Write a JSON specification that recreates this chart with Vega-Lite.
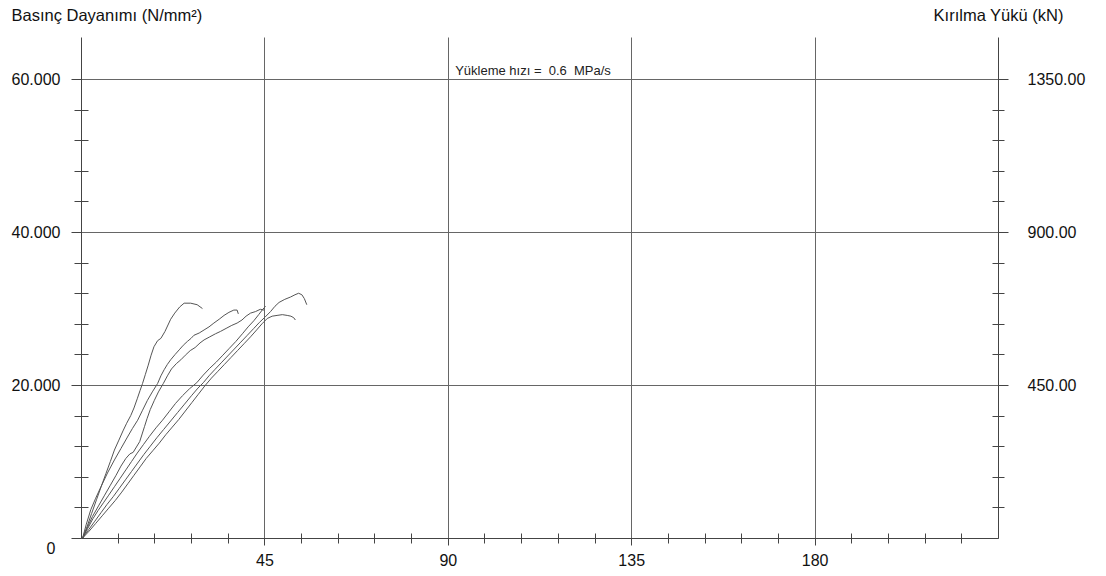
{
  "$schema": "https://vega.github.io/schema/vega-lite/v6.json",
  "autosize": {"type": "none"},
  "width": 917,
  "height": 501,
  "padding": {"left": 81, "top": 37, "right": 108, "bottom": 38},
  "background": "white",
  "config": {
    "view": {"stroke": null},
    "font": "Liberation Sans",
    "axis": {"labelFont": "Liberation Sans", "titleFont": "Liberation Sans", "labelColor": "#111", "titleColor": "#111", "domainColor": "#444", "tickColor": "#444", "gridColor": "#666", "gridWidth": 1, "labelFontSize": 16, "titleFontWeight": "normal", "titleFontSize": 16.5}
  },
  "datasets": {
    "curves": [
      {"c":"A","x":0.4,"y":0},{"c":"A","x":1.5,"y":1.5},{"c":"A","x":2.6,"y":3.2},{"c":"A","x":3.8,"y":5.0},{"c":"A","x":5.0,"y":6.8},{"c":"A","x":6.1,"y":8.4},{"c":"A","x":7.2,"y":10.0},{"c":"A","x":8.2,"y":11.5},{"c":"A","x":9.3,"y":12.8},{"c":"A","x":10.3,"y":14.0},{"c":"A","x":11.2,"y":15.0},{"c":"A","x":12.2,"y":16.0},{"c":"A","x":13.0,"y":17.0},{"c":"A","x":13.8,"y":18.2},{"c":"A","x":14.5,"y":19.3},{"c":"A","x":15.1,"y":20.2},{"c":"A","x":15.8,"y":21.4},{"c":"A","x":16.5,"y":22.6},{"c":"A","x":17.2,"y":23.9},{"c":"A","x":17.9,"y":25.0},{"c":"A","x":18.8,"y":25.8},{"c":"A","x":19.6,"y":26.1},{"c":"A","x":20.6,"y":27.0},{"c":"A","x":22.0,"y":28.6},{"c":"A","x":23.0,"y":29.4},{"c":"A","x":24.2,"y":30.2},{"c":"A","x":25.3,"y":30.7},{"c":"A","x":26.9,"y":30.7},{"c":"A","x":28.5,"y":30.5},{"c":"A","x":29.8,"y":30.0},
      {"c":"B","x":0.4,"y":0},{"c":"B","x":1.3,"y":1.8},{"c":"B","x":2.4,"y":3.7},{"c":"B","x":3.6,"y":5.2},{"c":"B","x":4.9,"y":6.7},{"c":"B","x":6.5,"y":8.5},{"c":"B","x":8.2,"y":10.2},{"c":"B","x":9.8,"y":11.7},{"c":"B","x":11.4,"y":13.2},{"c":"B","x":12.6,"y":14.3},{"c":"B","x":13.9,"y":15.4},{"c":"B","x":15.1,"y":16.7},{"c":"B","x":16.3,"y":18.0},{"c":"B","x":17.5,"y":19.1},{"c":"B","x":18.8,"y":20.2},{"c":"B","x":19.6,"y":21.2},{"c":"B","x":20.4,"y":22.0},{"c":"B","x":21.2,"y":22.7},{"c":"B","x":22.0,"y":23.3},{"c":"B","x":23.1,"y":24.0},{"c":"B","x":24.1,"y":24.6},{"c":"B","x":25.1,"y":25.2},{"c":"B","x":26.1,"y":25.7},{"c":"B","x":27.0,"y":26.1},{"c":"B","x":27.7,"y":26.5},{"c":"B","x":29.0,"y":26.8},{"c":"B","x":30.2,"y":27.2},{"c":"B","x":31.4,"y":27.6},{"c":"B","x":32.6,"y":28.1},{"c":"B","x":33.9,"y":28.6},{"c":"B","x":35.1,"y":29.1},{"c":"B","x":36.3,"y":29.5},{"c":"B","x":37.5,"y":29.8},{"c":"B","x":38.3,"y":29.8},{"c":"B","x":38.6,"y":29.3},
      {"c":"C","x":0.4,"y":0},{"c":"C","x":1.5,"y":1.3},{"c":"C","x":2.8,"y":2.8},{"c":"C","x":4.3,"y":4.2},{"c":"C","x":5.8,"y":5.6},{"c":"C","x":7.2,"y":6.9},{"c":"C","x":8.6,"y":8.2},{"c":"C","x":9.8,"y":9.4},{"c":"C","x":11.0,"y":10.4},{"c":"C","x":12.0,"y":11.0},{"c":"C","x":12.8,"y":11.2},{"c":"C","x":13.6,"y":11.9},{"c":"C","x":14.4,"y":12.6},{"c":"C","x":15.0,"y":13.6},{"c":"C","x":15.6,"y":14.6},{"c":"C","x":16.2,"y":15.6},{"c":"C","x":17.0,"y":16.8},{"c":"C","x":18.0,"y":18.0},{"c":"C","x":19.0,"y":19.1},{"c":"C","x":20.2,"y":20.2},{"c":"C","x":21.2,"y":21.2},{"c":"C","x":22.2,"y":22.1},{"c":"C","x":23.4,"y":22.8},{"c":"C","x":24.5,"y":23.3},{"c":"C","x":25.6,"y":23.9},{"c":"C","x":26.8,"y":24.5},{"c":"C","x":28.0,"y":24.9},{"c":"C","x":29.2,"y":25.5},{"c":"C","x":30.2,"y":25.9},{"c":"C","x":31.6,"y":26.3},{"c":"C","x":33.0,"y":26.7},{"c":"C","x":34.2,"y":27.0},{"c":"C","x":35.6,"y":27.4},{"c":"C","x":37.0,"y":27.8},{"c":"C","x":38.3,"y":28.1},{"c":"C","x":39.5,"y":28.5},{"c":"C","x":40.5,"y":29.0},{"c":"C","x":41.6,"y":29.4},{"c":"C","x":42.8,"y":29.6},{"c":"C","x":44.0,"y":29.9},{"c":"C","x":44.9,"y":29.8},
      {"c":"D","x":0.4,"y":0},{"c":"D","x":1.9,"y":1.1},{"c":"D","x":3.4,"y":2.2},{"c":"D","x":4.9,"y":3.3},{"c":"D","x":6.4,"y":4.4},{"c":"D","x":7.9,"y":5.4},{"c":"D","x":9.4,"y":6.5},{"c":"D","x":10.9,"y":7.6},{"c":"D","x":12.4,"y":8.7},{"c":"D","x":13.9,"y":9.8},{"c":"D","x":15.4,"y":10.9},{"c":"D","x":17.0,"y":12.0},{"c":"D","x":18.6,"y":13.1},{"c":"D","x":20.3,"y":14.2},{"c":"D","x":22.0,"y":15.3},{"c":"D","x":23.7,"y":16.4},{"c":"D","x":25.4,"y":17.5},{"c":"D","x":27.1,"y":18.6},{"c":"D","x":28.7,"y":19.6},{"c":"D","x":30.0,"y":20.3},{"c":"D","x":31.4,"y":21.2},{"c":"D","x":32.8,"y":22.0},{"c":"D","x":34.4,"y":22.9},{"c":"D","x":36.0,"y":23.8},{"c":"D","x":37.6,"y":24.7},{"c":"D","x":39.2,"y":25.6},{"c":"D","x":40.8,"y":26.5},{"c":"D","x":42.4,"y":27.4},{"c":"D","x":43.8,"y":28.2},{"c":"D","x":45.2,"y":28.9},{"c":"D","x":46.5,"y":29.6},{"c":"D","x":47.6,"y":30.3},{"c":"D","x":48.6,"y":30.8},{"c":"D","x":50.0,"y":31.2},{"c":"D","x":51.4,"y":31.5},{"c":"D","x":52.5,"y":31.8},{"c":"D","x":53.4,"y":32.0},{"c":"D","x":54.2,"y":31.8},{"c":"D","x":54.8,"y":31.3},{"c":"D","x":55.4,"y":30.5},
      {"c":"E","x":0.4,"y":0},{"c":"E","x":2.0,"y":0.9},{"c":"E","x":3.6,"y":1.9},{"c":"E","x":5.2,"y":2.9},{"c":"E","x":6.8,"y":3.9},{"c":"E","x":8.4,"y":4.9},{"c":"E","x":10.0,"y":6.0},{"c":"E","x":11.5,"y":7.1},{"c":"E","x":13.0,"y":8.2},{"c":"E","x":14.5,"y":9.3},{"c":"E","x":16.0,"y":10.4},{"c":"E","x":17.6,"y":11.4},{"c":"E","x":19.2,"y":12.4},{"c":"E","x":20.8,"y":13.5},{"c":"E","x":22.4,"y":14.5},{"c":"E","x":24.0,"y":15.5},{"c":"E","x":25.6,"y":16.6},{"c":"E","x":27.2,"y":17.7},{"c":"E","x":28.8,"y":18.8},{"c":"E","x":30.4,"y":19.9},{"c":"E","x":32.0,"y":20.9},{"c":"E","x":33.6,"y":21.8},{"c":"E","x":35.2,"y":22.7},{"c":"E","x":36.8,"y":23.6},{"c":"E","x":38.4,"y":24.5},{"c":"E","x":40.0,"y":25.4},{"c":"E","x":41.6,"y":26.3},{"c":"E","x":43.1,"y":27.2},{"c":"E","x":44.4,"y":28.0},{"c":"E","x":45.7,"y":28.7},{"c":"E","x":46.9,"y":29.0},{"c":"E","x":48.1,"y":29.1},{"c":"E","x":49.4,"y":29.2},{"c":"E","x":50.6,"y":29.1},{"c":"E","x":51.5,"y":29.0},{"c":"E","x":52.2,"y":28.8},{"c":"E","x":52.6,"y":28.5},
      {"c":"F","x":0.4,"y":0},{"c":"F","x":1.6,"y":1.2},{"c":"F","x":2.9,"y":2.5},{"c":"F","x":4.2,"y":3.6},{"c":"F","x":5.5,"y":4.6},{"c":"F","x":6.8,"y":5.6},{"c":"F","x":8.2,"y":6.7},{"c":"F","x":9.6,"y":7.8},{"c":"F","x":11.0,"y":8.9},{"c":"F","x":12.4,"y":10.0},{"c":"F","x":13.8,"y":11.1},{"c":"F","x":15.3,"y":12.2},{"c":"F","x":16.8,"y":13.3},{"c":"F","x":18.4,"y":14.4},{"c":"F","x":20.0,"y":15.4},{"c":"F","x":21.6,"y":16.5},{"c":"F","x":23.2,"y":17.6},{"c":"F","x":24.9,"y":18.6},{"c":"F","x":26.6,"y":19.5},{"c":"F","x":28.4,"y":20.3},{"c":"F","x":30.0,"y":21.3},{"c":"F","x":31.6,"y":22.2},{"c":"F","x":33.2,"y":23.0},{"c":"F","x":34.8,"y":23.9},{"c":"F","x":36.4,"y":24.8},{"c":"F","x":38.0,"y":25.7},{"c":"F","x":39.6,"y":26.7},{"c":"F","x":41.0,"y":27.6},{"c":"F","x":42.4,"y":28.4},{"c":"F","x":43.6,"y":29.2},{"c":"F","x":44.6,"y":29.9},{"c":"F","x":45.3,"y":30.3}
    ],
    "note": [
      {"label": "Yükleme hızı = \u00a00.6 \u00a0MPa/s", "x": 91.8, "y": 60}
    ]
  },
  "resolve": {"axis": {"x": "independent", "y": "independent"}},
  "layer": [
    {
      "data": {"name": "curves"},
      "mark": {"type": "line", "color": "#555", "strokeWidth": 1},
      "encoding": {
        "x": {"field": "x", "type": "quantitative", "scale": {"domain": [0, 225], "nice": false, "zero": false},
          "axis": {"orient": "bottom", "values": [45, 90, 135, 180], "grid": true, "tickSize": 7, "labelPadding": 7, "title": null, "labelFlush": false}},
        "y": {"field": "y", "type": "quantitative", "scale": {"domain": [0, 65.5], "nice": false, "zero": false},
          "axis": {"orient": "left", "values": [0, 20, 40, 60], "grid": true, "tickSize": 10,
            "labelPadding": {"condition": {"test": "datum.value == 0", "value": 16}, "value": 11},
            "labelOffset": {"condition": {"test": "datum.value == 0", "value": 10}, "value": 0},
            "labelExpr": "datum.value == 0 ? '0' : format(datum.value, '.3f')",
            "title": "Basınç Dayanımı (N/mm²)", "titleAngle": 0, "titleAlign": "left", "titleBaseline": "middle", "titleX": -70, "titleY": -22}},
        "detail": {"field": "c", "type": "nominal"}
      }
    },
    {
      "data": {"name": "note"},
      "mark": {"type": "text", "align": "left", "baseline": "bottom", "dy": -1, "fontSize": 13, "font": "Liberation Sans", "color": "#222"},
      "encoding": {
        "x": {"field": "x", "type": "quantitative",
          "axis": {"orient": "bottom", "values": [9, 18, 27, 36, 54, 63, 72, 81, 99, 108, 117, 126, 144, 153, 162, 171, 189, 198, 207, 216], "grid": false, "domain": false, "labels": false, "tickSize": 10, "offset": -5, "title": null}},
        "y": {"field": "y", "type": "quantitative",
          "axis": {"orient": "left", "values": [4, 8, 12, 16, 24, 28, 32, 36, 44, 48, 52, 56], "grid": false, "domain": false, "labels": false, "tickSize": 14, "offset": -7, "title": null}},
        "text": {"field": "label"}
      }
    },
    {
      "data": {"name": "note"},
      "mark": {"type": "point", "opacity": 0},
      "encoding": {
        "x": {"field": "x", "type": "quantitative", "axis": null},
        "y": {"field": "y", "type": "quantitative",
          "axis": {"orient": "right", "values": [20, 40, 60], "grid": false, "tickSize": 10, "labelPadding": 19,
            "labelExpr": "format(datum.value * 22.5, '.2f')",
            "title": "Kırılma Yükü (kN)", "titleAngle": 0, "titleAlign": "center", "titleBaseline": "middle", "titleX": 0, "titleY": -22}}
      }
    },
    {
      "data": {"name": "note"},
      "mark": {"type": "point", "opacity": 0},
      "encoding": {
        "x": {"field": "x", "type": "quantitative", "axis": null},
        "y": {"field": "y", "type": "quantitative",
          "axis": {"orient": "right", "values": [4, 8, 12, 16, 24, 28, 32, 36, 44, 48, 52, 56], "grid": false, "domain": false, "labels": false, "tickSize": 12, "offset": -6, "title": null}}
      }
    }
  ]
}
